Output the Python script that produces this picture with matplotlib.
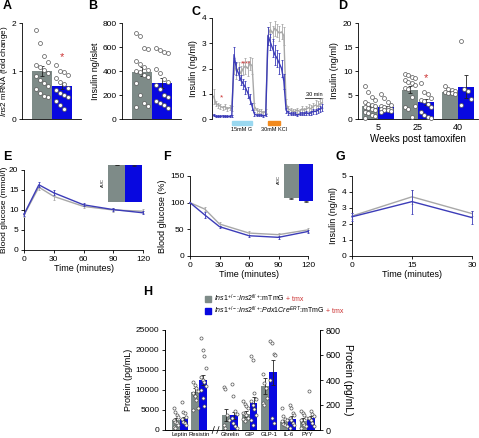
import matplotlib
matplotlib.use("Agg")
import matplotlib.pyplot as plt
from matplotlib.patches import Rectangle
import numpy as np

plt.rcParams['font.family'] = ['Liberation Sans', 'DejaVu Sans']
plt.rcParams['font.size'] = 6
plt.rcParams['mathtext.fontset'] = 'custom'
plt.rcParams['mathtext.rm'] = 'Liberation Sans'
plt.rcParams['mathtext.it'] = 'Liberation Sans:italic'
plt.rcParams['mathtext.bf'] = 'Liberation Sans:bold'
plt.rcParams['axes.linewidth'] = 0.6
plt.rcParams['xtick.major.width'] = 0.6
plt.rcParams['ytick.major.width'] = 0.6
plt.rcParams['xtick.major.size'] = 2.5
plt.rcParams['ytick.major.size'] = 2.5
plt.rcParams['xtick.major.pad'] = 1.5
plt.rcParams['ytick.major.pad'] = 1.5

W, H = 479, 438
GRAY = '#7e8b88'
BLUE = '#0808e0'
LGRAY = '#a8a8a8'
LBLUE = '#3c3cb8'
RED = '#cc3333'

# A - Ins2 mRNA
a_means = [1.0, 0.69]
a_sem = [0.1, 0.06]
a_ctrl = [1.86, 1.58, 1.32, 1.18, 1.12, 1.08, 1.02, 0.95, 0.9, 0.82, 0.75, 0.68, 0.62, 0.55, 0.48, 0.45]
a_ko = [1.12, 1.0, 0.98, 0.92, 0.85, 0.78, 0.72, 0.65, 0.6, 0.55, 0.5, 0.45, 0.38, 0.3, 0.2]

# B - insulin content
b_means = [395, 300]
b_sem = [40, 40]
b_ctrl = [720, 690, 590, 580, 480, 460, 430, 410, 400, 390, 370, 350, 300, 200, 130, 110, 100]
b_ko = [590, 575, 560, 550, 420, 380, 330, 310, 280, 250, 200, 180, 150, 130, 120, 90]

# C - perifusion (sample every 4 min)
c_gray = [0.9, 0.6, 0.55, 0.5, 0.45, 0.5, 0.4, 0.45, 0.4,
          2.1, 1.9, 2.0, 1.8, 2.0, 2.1, 2.0, 2.2, 2.1,
          0.5, 0.35, 0.3, 0.3, 0.25, 0.3,
          3.3, 3.55, 3.4, 3.6, 3.5, 3.4, 3.45, 3.3,
          0.6, 0.4, 0.35, 0.3, 0.3, 0.35, 0.3, 0.4, 0.35, 0.4, 0.45, 0.4, 0.5, 0.55, 0.5, 0.6, 0.65]
c_gray_err = [0.3, 0.1, 0.1, 0.1, 0.08, 0.1, 0.08, 0.1, 0.1,
              0.3, 0.3, 0.25, 0.3, 0.25, 0.3, 0.3, 0.25, 0.3,
              0.15, 0.1, 0.08, 0.08, 0.08, 0.08,
              0.35, 0.3, 0.3, 0.3, 0.25, 0.3, 0.3, 0.35,
              0.2, 0.1, 0.1, 0.1, 0.08, 0.1, 0.1, 0.12, 0.1, 0.12, 0.15, 0.15, 0.15, 0.2, 0.2, 0.2, 0.2]
c_blue = [0.15, 0.1, 0.1, 0.1, 0.12, 0.1, 0.1, 0.1, 0.12,
          2.55, 2.0, 1.8, 1.55, 1.4, 1.25, 1.05, 0.8, 0.5,
          0.2, 0.15, 0.15, 0.15, 0.12, 0.15,
          3.3, 3.05, 2.8, 2.55, 2.4, 2.2, 2.0, 1.5,
          0.35, 0.25, 0.2, 0.2, 0.2, 0.15, 0.2, 0.2, 0.2, 0.25, 0.2, 0.25, 0.3, 0.3, 0.35, 0.4, 0.45]
c_blue_err = [0.05, 0.04, 0.04, 0.04, 0.05, 0.04, 0.04, 0.04, 0.05,
              0.3, 0.25, 0.25, 0.2, 0.2, 0.25, 0.2, 0.2, 0.15,
              0.08, 0.05, 0.05, 0.05, 0.05, 0.05,
              0.35, 0.3, 0.35, 0.4, 0.35, 0.4, 0.35, 0.3,
              0.1, 0.08, 0.06, 0.06, 0.06, 0.05, 0.06, 0.06, 0.06, 0.08, 0.06, 0.08, 0.1, 0.1, 0.1, 0.12, 0.15]
stim_start = [32, 96]
stim_end = [68, 118]
stim_names = ['15mM G', '30mM KCl']
stim_colors = ['#9ad8f0', '#f28a1e']

# D - insulin over time
d_weeks = ['5', '25', '40']
d_ctrl_mean = [2.8, 6.1, 5.6]
d_ctrl_sem = [0.4, 0.7, 0.3]
d_ko_mean = [2.4, 3.5, 6.7]
d_ko_sem = [0.3, 0.6, 2.4]
d_ctrl_pts = [[6.9, 5.7, 4.6, 3.9, 3.5, 3.2, 3.0, 2.8, 2.6, 2.3, 2.0, 1.8, 1.5, 1.2, 0.9, 0.6, 0.3],
              [9.3, 9.1, 8.8, 8.5, 8.2, 7.8, 7.5, 7.0, 6.5, 6.2, 4.5, 2.8, 2.5, 2.0, 0.5],
              [6.8, 6.2, 6.0, 5.8, 5.6, 5.5, 5.4, 5.3]]
d_ko_pts = [[5.2, 4.3, 3.6, 3.0, 2.7, 2.5, 2.3, 2.1, 2.0, 1.9, 1.8, 1.6, 1.5],
            [7.5, 5.6, 5.3, 4.4, 4.0, 3.8, 3.2, 2.4, 1.5, 0.9, 0.5, 0.3],
            [16.2, 6.2, 5.8, 4.2, 3.0]]

# E - OGTT
e_time = [0, 15, 30, 60, 90, 120]
e_gray = [8.7, 15.7, 13.4, 10.9, 10.0, 9.7]
e_gray_err = [0.4, 0.6, 0.8, 0.5, 0.4, 0.5]
e_blue = [8.9, 16.3, 14.3, 11.3, 10.1, 9.3]
e_blue_err = [0.4, 0.6, 0.6, 0.4, 0.3, 0.4]
e_auc = [1.0, 0.99]

# F - ITT
f_time = [0, 15, 30, 60, 90, 120]
f_gray = [100, 88, 60, 43, 40, 49]
f_gray_err = [0, 4, 3, 3, 4, 4]
f_blue = [100, 77, 55, 38, 35, 46]
f_blue_err = [0, 5, 2, 2, 3, 3]
f_aoc = [-0.9, -0.99]

# G - insulin during GTT
g_time = [0, 15, 30]
g_gray = [2.5, 3.7, 2.65]
g_gray_err = [0.2, 0.45, 0.15]
g_blue = [2.45, 3.4, 2.4]
g_blue_err = [0.25, 0.75, 0.4]

# H - hormones
h_labels = ['Leptin', 'Resistin', 'Ghrelin', 'GIP', 'GLP-1', 'IL-6', 'PYY']
h_ctrl_mean = [2400, 9500, 120, 128, 352, 64, 74]
h_ctrl_sem = [500, 900, 45, 25, 65, 15, 20]
h_ko_mean = [2800, 12500, 118, 220, 464, 85, 96]
h_ko_sem = [500, 1300, 30, 45, 100, 25, 20]
h_ctrl_pts = [[5400, 4600, 3700, 3200, 2500, 2100, 1700, 1200, 800, 600],
              [12000, 11200, 10500, 9800, 9200, 8500, 7500, 5500, 5000],
              [345, 325, 120, 80, 40, 20],
              [230, 210, 190, 180, 140, 130, 120, 100, 90, 70],
              [450, 380, 340, 260, 220, 200],
              [180, 110, 90, 80, 70, 50, 40, 30],
              [150, 140, 120, 100, 80, 60, 40, 30, 20]]
h_ko_pts = [[7000, 4600, 4300, 3300, 2700, 2100, 1700, 1200],
            [23000, 20000, 18500, 15500, 13200, 12500, 12000, 11000, 10000, 8000, 6000],
            [370, 270, 150, 130, 100, 60, 30, 20],
            [590, 560, 300, 250, 230, 200, 170, 120, 80, 40],
            [710, 700, 610, 600, 400, 100, 60],
            [200, 180, 140, 120, 100, 80, 60, 40, 20],
            [310, 150, 130, 110, 100, 80, 60, 30]]

fig = plt.figure(figsize=(W / 100, H / 100), dpi=100)


def add_ax(l, t, r, b):
    return fig.add_axes([l / W, 1 - b / H, (r - l) / W, (b - t) / H])


def clean(ax):
    ax.spines['top'].set_visible(False)
    ax.spines['right'].set_visible(False)


def spread(n, w):
    return np.array([((i % 4) - 1.5) * w / 5.0 for i in range(n)])


def draw_bar(ax, x, mean, sem, pts, color, width, ms=8):
    ax.bar(x, mean, width, color=color, zorder=1)
    ax.errorbar(x, mean, yerr=sem, color='#222222', capsize=1.2, elinewidth=0.6,
                capthick=0.6, zorder=2)
    ax.scatter(x + spread(len(pts), width), pts, s=ms, facecolor='white',
               edgecolor='#555555', linewidths=0.5, zorder=3, clip_on=False)


def letter(x, y, s):
    fig.text(x / W, 1 - y / H, s, fontsize=9, weight='bold', va='center')


def curves(ax, t, g, ge, b, be):
    ax.errorbar(t, g, yerr=ge, color=LGRAY, lw=1.0, elinewidth=0.6, capsize=1.0,
                capthick=0.6, clip_on=False, zorder=3)
    ax.errorbar(t, b, yerr=be, color=LBLUE, lw=1.0, elinewidth=0.6, capsize=1.0,
                capthick=0.6, clip_on=False, zorder=4)


# ---- A
axA = add_ax(22, 23, 81, 119)
draw_bar(axA, 0, a_means[0], a_sem[0], a_ctrl, GRAY, 1.0)
draw_bar(axA, 1, a_means[1], a_sem[1], a_ko, BLUE, 1.0)
axA.text(1, 1.3, '*', color=RED, ha='center', va='center', fontsize=8)
axA.set_xlim(-1.0, 1.95)
axA.set_ylim(0, 2)
axA.set_yticks([0, 1, 2])
axA.set_xticks([])
axA.set_ylabel(r'$\mathit{Ins2}$ mRNA (fold change)', fontsize=5.8, labelpad=1.5)
clean(axA)
letter(3, 6, 'A')

# ---- B
axB = add_ax(122, 23, 181, 119)
draw_bar(axB, 0, b_means[0], b_sem[0], b_ctrl, GRAY, 1.0)
draw_bar(axB, 1, b_means[1], b_sem[1], b_ko, BLUE, 1.0)
axB.set_xlim(-1.0, 1.95)
axB.set_ylim(0, 800)
axB.set_yticks([0, 200, 400, 600, 800])
axB.set_xticks([])
axB.set_ylabel('Insulin ng/islet', fontsize=6.5, labelpad=2)
clean(axB)
letter(88, 6, 'B')

# ---- C
axC = add_ax(212, 18, 324, 119)
c_t = np.arange(len(c_gray)) * 4
curves(axC, c_t, c_gray, c_gray_err, c_blue, c_blue_err)
axC.set_xlim(-3, 195)
axC.set_ylim(0, 4)
axC.set_yticks([0, 1, 2, 3, 4])
axC.set_xticks([])
clean(axC)
axC.spines['bottom'].set_visible(False)
axC.set_ylabel('Insulin (ng/ml)', fontsize=6.5, labelpad=3)
for s, e, name, col in zip(stim_start, stim_end, stim_names, stim_colors):
    axC.add_patch(Rectangle((s, -0.02), e - s, -0.035, color=col,
                            transform=axC.get_xaxis_transform(), clip_on=False))
    axC.text((s + e) / 2, -0.075, name, fontsize=4, ha='center', va='top',
             transform=axC.get_xaxis_transform())
axC.plot([162, 192], [0.82, 0.82], color='black', lw=0.5)
axC.text(177, 0.86, '30 min', fontsize=4, ha='center', va='bottom')
axC.text(14, 0.85, '*', color=RED, ha='center', va='center', fontsize=6)
axC.text(58, 2.2, '****', color=RED, ha='center', va='center', fontsize=5)
letter(192, 12, 'C')

# ---- D
axD = add_ax(358, 23, 478, 119)
for i in range(len(d_weeks)):
    draw_bar(axD, i - 0.2, d_ctrl_mean[i], d_ctrl_sem[i], d_ctrl_pts[i], GRAY, 0.4)
    draw_bar(axD, i + 0.2, d_ko_mean[i], d_ko_sem[i], d_ko_pts[i], BLUE, 0.4)
axD.text(1.2, 8.6, '*', color=RED, ha='center', va='center', fontsize=8)
axD.set_xlim(-0.5, 2.5)
axD.set_ylim(0, 20)
axD.set_yticks([0, 5, 10, 15, 20])
axD.set_xticks(range(len(d_weeks)))
axD.set_xticklabels(d_weeks, fontsize=6.5)
axD.tick_params(axis='x', length=0, pad=3)
axD.set_xlabel('Weeks post tamoxifen', fontsize=7, labelpad=1)
axD.set_ylabel('Insulin (ng/ml)', fontsize=6.5, labelpad=3)
clean(axD)
letter(338, 6, 'D')

# ---- E
axE = add_ax(24, 170, 143, 250)
curves(axE, e_time, e_gray, e_gray_err, e_blue, e_blue_err)
axE.set_xlim(0, 120)
axE.set_ylim(0, 20)
axE.set_yticks([0, 5, 10, 15, 20])
axE.set_xticks([0, 30, 60, 90, 120])
axE.set_xlabel('Time (minutes)', fontsize=6.5, labelpad=1)
axE.set_ylabel('Blood glucose (mmol/l)', fontsize=6, labelpad=1)
clean(axE)
letter(3, 157, 'E')
axEi = add_ax(108, 164, 142, 202)
axEi.bar([0, 1], e_auc, 1.0, color=[GRAY, BLUE])
axEi.errorbar([0, 1], e_auc, yerr=0.01, fmt='none', color='#222222', capsize=1.2,
              elinewidth=0.5, capthick=0.5)
axEi.set_xlim(-0.5, 1.5)
axEi.set_ylim(0, 1.03)
axEi.axis('off')
fig.text(103 / W, 1 - 183 / H, 'AUC', fontsize=3, rotation=90, ha='center', va='center')

# ---- F
axF = add_ax(190, 176, 308, 256)
curves(axF, f_time, f_gray, f_gray_err, f_blue, f_blue_err)
axF.set_xlim(0, 120)
axF.set_ylim(0, 150)
axF.set_yticks([0, 50, 100, 150])
axF.set_xticks([0, 30, 60, 90, 120])
axF.set_xlabel('Time (minutes)', fontsize=6.5, labelpad=1)
axF.set_ylabel('Blood glucose (%)', fontsize=6.5, labelpad=2)
clean(axF)
letter(163, 157, 'F')
axFi = add_ax(284, 164, 313, 203)
axFi.bar([0, 1], f_aoc, 1.0, color=[GRAY, BLUE])
axFi.errorbar([0, 1], f_aoc, yerr=0.015, fmt='none', color='#222222', capsize=1.2,
              elinewidth=0.5, capthick=0.5)
axFi.set_xlim(-0.5, 1.5)
axFi.set_ylim(-1.03, 0)
axFi.axis('off')
fig.text(279 / W, 1 - 180 / H, 'AOC', fontsize=3, rotation=90, ha='center', va='center')

# ---- G
axG = add_ax(352, 176, 472, 256)
curves(axG, g_time, g_gray, g_gray_err, g_blue, g_blue_err)
axG.set_xlim(0, 30)
axG.set_ylim(0, 5)
axG.set_yticks([0, 1, 2, 3, 4, 5])
axG.set_xticks([0, 15, 30])
axG.set_xlabel('Time (minutes)', fontsize=6.5, labelpad=1)
axG.set_ylabel('Insulin (ng/ml)', fontsize=6.5, labelpad=3)
clean(axG)
letter(335, 157, 'G')

# ---- H
axH = add_ax(165, 330, 320, 430)
axH2 = axH.twinx()
h_pos = [0, 1, 2.6, 3.6, 4.6, 5.6, 6.6]
for i in range(len(h_labels)):
    ax = axH if i < 2 else axH2
    draw_bar(ax, h_pos[i] - 0.205, h_ctrl_mean[i], h_ctrl_sem[i], h_ctrl_pts[i], GRAY, 0.41, ms=5)
    draw_bar(ax, h_pos[i] + 0.205, h_ko_mean[i], h_ko_sem[i], h_ko_pts[i], BLUE, 0.41, ms=5)
axH.set_xlim(-0.78, 7.25)
axH.set_ylim(0, 25000)
axH.set_yticks([0, 5000, 10000, 15000, 20000, 25000])
axH2.set_ylim(0, 800)
axH2.set_yticks([0, 200, 400, 600, 800])
axH2.tick_params(axis='y', labelsize=6.5)
axH.set_xticks(h_pos)
axH.set_xticklabels(h_labels, fontsize=4.2)
axH.tick_params(axis='x', length=0, pad=1.5)
axH.spines['top'].set_visible(False)
axH2.spines['top'].set_visible(False)
axH.set_ylabel('Protein (pg/mL)', fontsize=6.5, labelpad=2)
axH2.set_ylabel('Protein (pg/mL)', fontsize=7.5, rotation=270, labelpad=9)
# axis break between Resistin and Ghrelin
tr = axH.get_xaxis_transform()
axH.add_patch(Rectangle((1.66, -0.02), 0.42, 0.04, color='white', transform=tr,
                        clip_on=False, zorder=5))
for bx in [1.72, 1.96]:
    axH.plot([bx - 0.06, bx + 0.06], [-0.035, 0.035], color='black', lw=0.5,
             transform=tr, clip_on=False, zorder=6)
letter(143, 292, 'H')

# legend for H
leg_names = [r'$\mathit{Ins1}^{+/-}$:$\mathit{Ins2}^{fl/+}$:mTmG',
             r'$\mathit{Ins1}^{+/-}$:$\mathit{Ins2}^{fl/+}$:$\mathit{Pdx1Cre}^{ERT}$:mTmG']
fig.canvas.draw()
renderer = fig.canvas.get_renderer()
for k, (name, col) in enumerate(zip(leg_names, [GRAY, BLUE])):
    yy = 299 + 12 * k
    fig.add_artist(Rectangle((205 / W, 1 - (yy + 3) / H), 6 / W, 6 / H, color=col,
                             transform=fig.transFigure))
    t1 = fig.text(214 / W, 1 - (yy + 2) / H, name, fontsize=5, va='baseline')
    bb = t1.get_window_extent(renderer)
    fig.text(bb.x1 / W + 1.5 / W, 1 - (yy + 2) / H, '+ tmx', color=RED, fontsize=5,
             va='baseline')

fig.savefig('out.png', dpi=100)
